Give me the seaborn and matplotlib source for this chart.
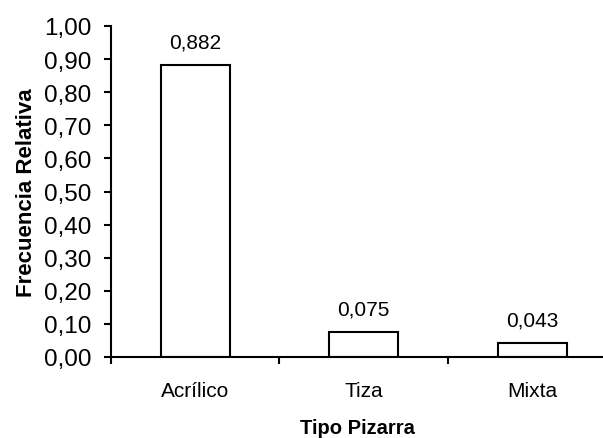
import matplotlib
matplotlib.use('Agg')
import pandas as pd
import seaborn as sns
import matplotlib.pyplot as plt
from matplotlib.ticker import FixedLocator, FuncFormatter

categorias = ['Acrílico', 'Tiza', 'Mixta']
frecuencia = [0.882, 0.075, 0.043]
etiquetas = ['0,882', '0,075', '0,043']

data = pd.DataFrame({'Tipo Pizarra': categorias, 'Frecuencia Relativa': frecuencia})

sns.set_style('white')
plt.rcParams['font.family'] = ['Liberation Sans', 'DejaVu Sans']
plt.rcParams['text.color'] = 'black'
plt.rcParams['axes.labelcolor'] = 'black'
plt.rcParams['xtick.color'] = 'black'
plt.rcParams['ytick.color'] = 'black'

fig = plt.figure(figsize=(6.03, 4.39), dpi=100)
ax = fig.add_axes([111 / 603, 1 - 358 / 439, 1 - 111 / 603, 331 / 439])

sns.barplot(data, x='Tipo Pizarra', y='Frecuencia Relativa', color='white',
            edgecolor='black', linewidth=1.5, width=0.41, ax=ax)

for i, (v, t) in enumerate(zip(frecuencia, etiquetas)):
    ax.annotate(t, (i, v), xytext=(0, 9.5), textcoords='offset points',
                ha='center', va='bottom', fontsize=15)

ax.set_ylim(0, 1.0)
ax.set_xlim(-0.5, 2.42)
ax.set_yticks([i / 10 for i in range(11)])
ax.yaxis.set_major_formatter(FuncFormatter(lambda v, p: f'{v:.2f}'.replace('.', ',')))
ax.xaxis.set_minor_locator(FixedLocator([-0.5, 0.5, 1.5]))
ax.tick_params(axis='x', which='major', length=0, labelsize=15, pad=17)
ax.tick_params(axis='x', which='minor', length=5, width=1.5, direction='out', bottom=True)
ax.tick_params(axis='y', length=5, width=1.5, direction='out', left=True, labelsize=17.5, pad=9)

for s in ['top', 'right']:
    ax.spines[s].set_visible(False)
for s in ['left', 'bottom']:
    ax.spines[s].set_linewidth(1.5)
    ax.spines[s].set_color('black')

ax.set_xlabel('Tipo Pizarra', fontsize=14.5, fontweight='bold', labelpad=13)
ax.set_ylabel('Frecuencia Relativa', fontsize=16, fontweight='bold', labelpad=5)

fig.savefig('out.png', dpi=100)
